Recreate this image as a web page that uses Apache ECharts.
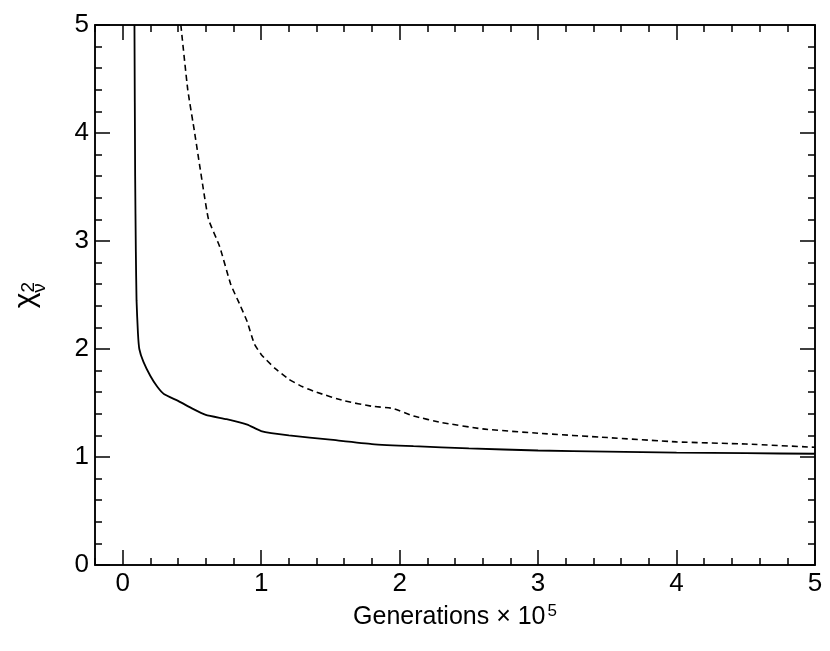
<!DOCTYPE html>
<html><head><meta charset="utf-8">
<script src="https://cdn.jsdelivr.net/npm/echarts@6/dist/echarts.min.js"></script>
<style>html,body{margin:0;background:#fff}#c{width:830px;height:651px}</style>
</head><body><div id="c"></div>
<script>
// values
const solidX = [0.085, 0.09, 0.095, 0.1, 0.11, 0.12, 0.15, 0.2, 0.25, 0.3, 0.4, 0.5, 0.6, 0.75, 0.9, 1.0, 1.2, 1.5, 1.8, 2.1, 2.5, 3.0, 3.5, 4.0, 4.5, 5.0]
const solidY = [5.0, 3.6, 2.9, 2.45, 2.15, 2.0, 1.88, 1.75, 1.65, 1.58, 1.52, 1.45, 1.39, 1.35, 1.3, 1.24, 1.2, 1.16, 1.12, 1.1, 1.08, 1.06, 1.05, 1.04, 1.035, 1.03]
const dashX = [0.42, 0.47, 0.52, 0.58, 0.62, 0.7, 0.78, 0.85, 0.9, 0.95, 1.0, 1.1, 1.2, 1.3, 1.4, 1.6, 1.8, 1.95, 2.1, 2.3, 2.6, 3.0, 3.5, 4.0, 4.5, 5.0]
const dashY = [5.0, 4.4, 4.0, 3.5, 3.2, 2.95, 2.6, 2.4, 2.25, 2.05, 1.95, 1.82, 1.72, 1.65, 1.6, 1.52, 1.47, 1.45, 1.38, 1.32, 1.26, 1.22, 1.18, 1.14, 1.12, 1.09]
const majorX = [0, 1, 2, 3, 4, 5]
const majorY = [0, 1, 2, 3, 4, 5]

const minorX = []
for (let v = -0.2; v <= 5.001; v += 0.2) minorX.push(+v.toFixed(1))
const minorY = []
for (let v = 0; v <= 5.001; v += 0.2) minorY.push(+v.toFixed(1))

const font = 'Liberation Sans, Arial, sans-serif'
const ax = (pos, major, minor, labels, extra) => {
  const base = {
    type: 'value', position: pos, min: extra.min, max: extra.max, gridIndex: 0,
    splitLine: { show: false },
    axisLine: { show: true, onZero: false, lineStyle: { color: '#000', width: 1.5 } },
    axisTick: { show: true, inside: true, length: major ? 15 : 7, customValues: major || minor, lineStyle: { color: '#000', width: 1.5 } },
    axisLabel: labels ? { show: true, customValues: major, color: '#000', fontSize: 26, fontFamily: font, margin: 6 } : { show: false }
  }
  return Object.assign(base, extra.more || {})
}
const xr = { min: -0.2, max: 5 }
const yr = { min: 0, max: 5 }
const chart = echarts.init(document.getElementById('c'))
chart.setOption({
  animation: false,
  grid: { left: 95, right: 15, top: 25, bottom: 86, outerBoundsMode: 'none', containLabel: false },
  xAxis: [
    ax('bottom', majorX, null, true, Object.assign({ more: {
      name: '{a|Generations × 10}{s|5}', nameLocation: 'middle', nameGap: 38,
      nameTextStyle: { color: '#000', fontFamily: font, rich: {
        a: { fontSize: 25, fontFamily: font, color: '#000' },
        s: { fontSize: 17, fontFamily: font, color: '#000', verticalAlign: 'top', padding: [0, 0, 12, 2] } } } } }, xr)),
    ax('bottom', null, minorX, false, xr),
    ax('top', majorX, null, false, xr),
    ax('top', null, minorX, false, xr)
  ],
  yAxis: [
    ax('left', majorY, null, true, Object.assign({ more: {
      name: '{a|χ}{s|2}\n{b|ν}', nameLocation: 'middle', nameGap: 48, nameRotate: 90,
      nameTextStyle: { color: '#000', fontFamily: font, lineHeight: 14, rich: {
        a: { fontSize: 30, fontFamily: font, color: '#000' },
        s: { fontSize: 19, fontFamily: font, color: '#000', verticalAlign: 'top', padding: [0, 0, 12, 0] },
        b: { fontSize: 19, fontFamily: font, color: '#000', padding: [0, 0, 0, 14] } } } } }, yr)),
    ax('left', null, minorY, false, yr),
    ax('right', majorY, null, false, yr),
    ax('right', null, minorY, false, yr)
  ],
  series: [
    { type: 'line', data: solidX.map((x, i) => [x, solidY[i]]), showSymbol: false, smooth: 0.15, clip: true,
      lineStyle: { color: '#000', width: 1.8 } },
    { type: 'line', data: dashX.map((x, i) => [x, dashY[i]]), showSymbol: false, smooth: 0.15, clip: true,
      lineStyle: { color: '#000', width: 1.6, type: [6, 4] } }
  ]
})
</script></body></html>
